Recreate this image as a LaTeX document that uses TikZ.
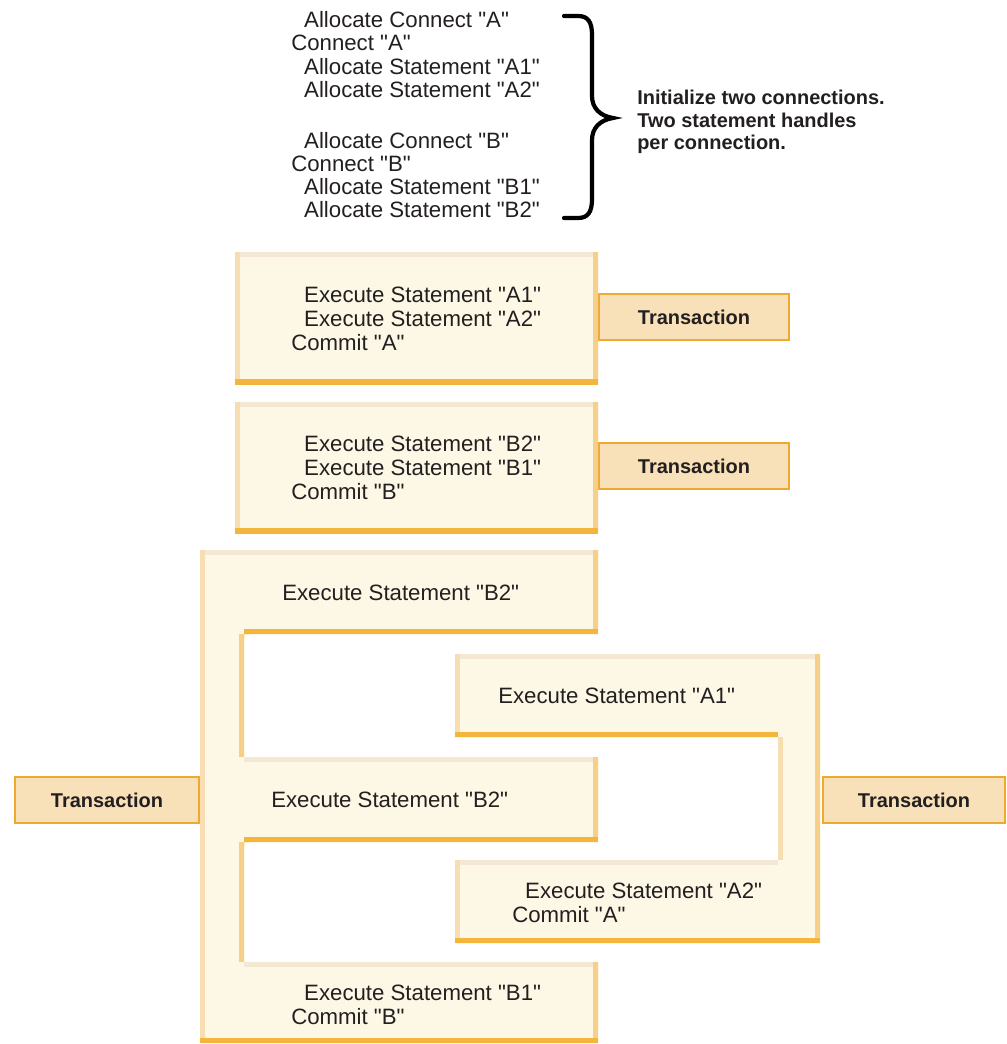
\documentclass[tikz,border=0pt]{standalone}
\usepackage{fontspec}
\setmainfont{Liberation Sans}[Ligatures=TeXOff]

\definecolor{boxfill}{HTML}{FDF7E5}
\definecolor{bvtop}{HTML}{F4E8D4}
\definecolor{bvleft}{HTML}{F6DDB2}
\definecolor{bvright}{HTML}{F6CF88}
\definecolor{bvbottom}{HTML}{F4B53C}
\definecolor{tafill}{HTML}{F8E1B8}
\definecolor{taline}{HTML}{F0A930}
\definecolor{ink}{HTML}{231F20}

\tikzset{
  stmt/.style={anchor=west, inner sep=0pt, align=left, text=ink,
    font=\fontsize{15.8}{17}\selectfont},
  alloc/.style={stmt, font=\fontsize{15.8}{16.5}\selectfont},
  note/.style={anchor=west, inner sep=0pt, align=left, text=ink,
    font=\bfseries\fontsize{14.2}{16}\selectfont},
  trans/.style={draw=taline, fill=tafill, line width=1.8pt, minimum height=1.15cm,
    font=\bfseries\fontsize{14.2}{16}\selectfont, text=ink},
  bv/.style={line width=7pt},
}
\newcommand{\ind}{\hspace*{9.2pt}}

\begin{document}
\begin{tikzpicture}[x=0.025cm, y=-0.025cm]
  \useasboundingbox (0,0) rectangle (1006,1044);

  % initialisation
  \node[alloc] (initA) at (291,54.5) {\ind Allocate Connect "A"\\Connect "A"\\
    \ind Allocate Statement "A1"\\\ind Allocate Statement "A2"};
  \node[alloc] (initB) at (291,175) {\ind Allocate Connect "B"\\Connect "B"\\
    \ind Allocate Statement "B1"\\\ind Allocate Statement "B2"};
  \draw[line width=3pt, line cap=round] (564,16) -- (578,16)
    .. controls (588,16) and (592,22) .. (592,35) -- (592,96)
    .. controls (592,108) and (600,116) .. (613,118)
    .. controls (600,120) and (592,128) .. (592,140) -- (592,199)
    .. controls (592,212) and (588,218) .. (578,218) -- (564,218);
  \node[note] (init) at (637,122) {Initialize two connections.\\Two statement handles\\per connection.};

  % transaction boxes (behind the statement blocks)
  \node[trans, minimum width=4.75cm] (trA) at (694,317) {Transaction};
  \node[trans, minimum width=4.75cm] (trB) at (694,466) {Transaction};
  \node[trans, minimum width=4.6cm] (trL) at (107,800) {Transaction};
  \node[trans, minimum width=4.55cm] (trR) at (914,800) {Transaction};

  % box 1
  \begin{scope}
    \clip (235,252) rectangle (598,384);
    \fill[boxfill] (235,252) rectangle (598,384);
    \draw[bv, bvtop] (235,252) -- (598,252);
    \draw[bv, bvleft] (235,252) -- (235,384);
    \draw[bv, bvright] (598,252) -- (598,384);
    \draw[bv, bvbottom] (235,384) -- (598,384);
  \end{scope}
  \node[stmt] (boxA) at (291,319) {\ind Execute Statement "A1"\\\ind Execute Statement "A2"\\Commit "A"};

  % box 2
  \begin{scope}
    \clip (235,402) rectangle (598,533);
    \fill[boxfill] (235,402) rectangle (598,533);
    \draw[bv, bvtop] (235,402) -- (598,402);
    \draw[bv, bvleft] (235,402) -- (235,533);
    \draw[bv, bvright] (598,402) -- (598,533);
    \draw[bv, bvbottom] (235,533) -- (598,533);
  \end{scope}
  \node[stmt] (boxB) at (291,468) {\ind Execute Statement "B2"\\\ind Execute Statement "B1"\\Commit "B"};

  % interleaved: connection B
  \begin{scope}
    \clip (200,550) -- (598,550) -- (598,634) -- (244,634) -- (244,757) -- (598,757)
      -- (598,842) -- (244,842) -- (244,962) -- (598,962) -- (598,1043) -- (200,1043) -- cycle;
    \fill[boxfill] (0,0) rectangle (1006,1044);
    \draw[bv, bvtop] (200,550) -- (598,550) (244,757) -- (598,757) (244,962) -- (598,962);
    \draw[bv, bvleft] (200,550) -- (200,1043);
    \draw[bv, bvright] (598,550) -- (598,634) (244,634) -- (244,757) (598,757) -- (598,842)
      (244,842) -- (244,962) (598,962) -- (598,1043);
    \draw[bv, bvbottom] (598,634) -- (244,634) (598,842) -- (244,842) (598,1043) -- (200,1043);
  \end{scope}

  % interleaved: connection A
  \begin{scope}
    \clip (455,654) -- (820,654) -- (820,943) -- (455,943) -- (455,860) -- (778,860)
      -- (778,737) -- (455,737) -- cycle;
    \fill[boxfill] (0,0) rectangle (1006,1044);
    \draw[bv, bvtop] (455,654) -- (820,654) (455,860) -- (778,860);
    \draw[bv, bvleft] (455,654) -- (455,737) (455,860) -- (455,943) (778,737) -- (778,860);
    \draw[bv, bvright] (820,654) -- (820,943);
    \draw[bv, bvbottom] (455,737) -- (778,737) (455,943) -- (820,943);
  \end{scope}

  \node[stmt] (b2a) at (282,593) {Execute Statement "B2"};
  \node[stmt] (a1) at (498,696) {Execute Statement "A1"};
  \node[stmt] (b2b) at (271,800) {Execute Statement "B2"};
  \node[stmt] (a2) at (512,902.5) {\ind Execute Statement "A2"\\Commit "A"};
  \node[stmt] (b1) at (291,1005) {\ind Execute Statement "B1"\\Commit "B"};
\end{tikzpicture}
\end{document}
